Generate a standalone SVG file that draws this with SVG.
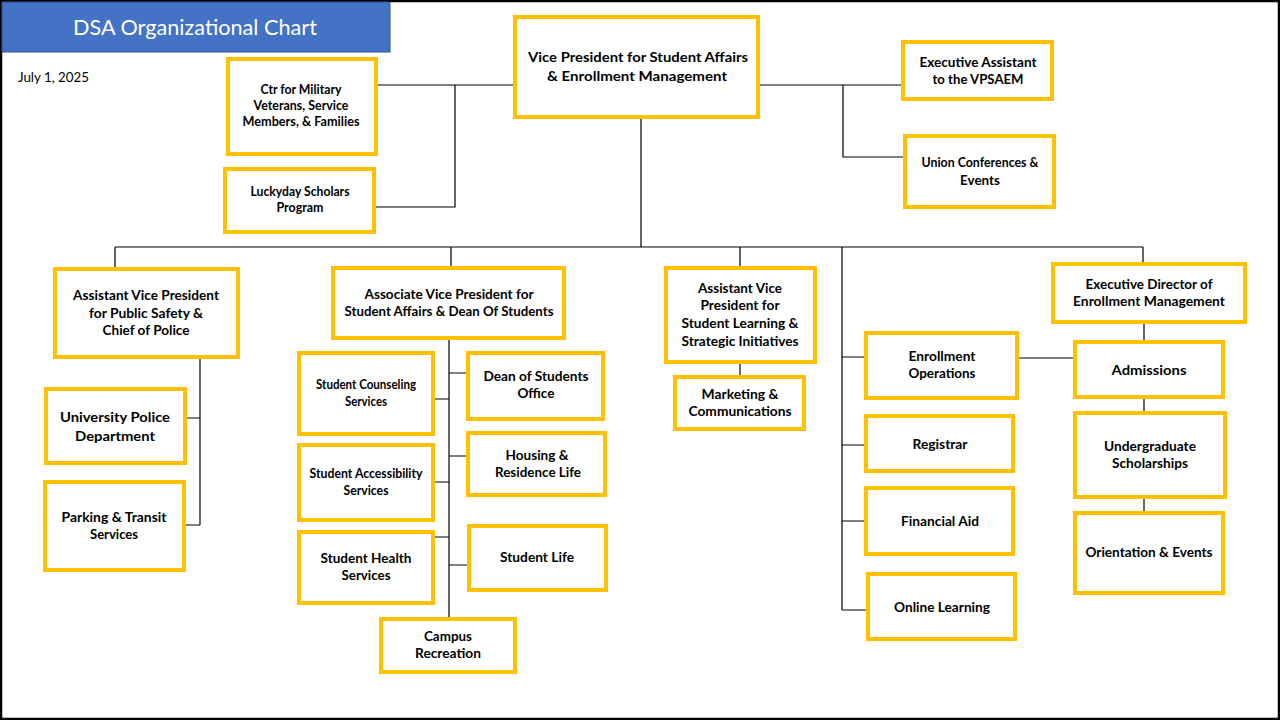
<svg xmlns="http://www.w3.org/2000/svg" width="1280" height="720" viewBox="0 0 1280 720">
<style>
.box{fill:#ffffff;stroke:#FFC000;stroke-width:4}
.t{font-family:Lato,"Liberation Sans",sans-serif;font-weight:700;font-size:12.5px;fill:#000;text-anchor:middle}
.big{font-size:13.5px}
.ln{stroke:#000;stroke-width:1.2;fill:none}
</style>
<rect x="0" y="0" width="1280" height="720" fill="#ffffff"/>
<rect x="1" y="1" width="1278" height="718" fill="none" stroke="#000" stroke-width="2.5"/>
<g id="title">
<rect x="2" y="2" width="388" height="50" fill="#4472C4" stroke="#2F528F" stroke-width="1"/>
<text x="195" y="34.5" font-family="Lato,'Liberation Sans',sans-serif" font-size="21" fill="#ffffff" text-anchor="middle" textLength="244" lengthAdjust="spacingAndGlyphs">DSA Organizational Chart</text>
</g>
<text x="18" y="82" font-family="Lato,'Liberation Sans',sans-serif" font-size="13" fill="#000" textLength="71" lengthAdjust="spacingAndGlyphs">July 1, 2025</text>

<g id="connectors">
<path class="ln" d="M378 85H515 M455 85V207H376"/>
<path class="ln" d="M758 85H902 M843 85V157H904"/>
<path class="ln" d="M641 117V247 M115 247H1143 M115 247V269 M451 247V268 M740 247V268 M1143 247V264"/>
<path class="ln" d="M200 357V525 M186 418H200 M184 525H200"/>
<path class="ln" d="M449 338V619 M433 399H449 M433 482H449 M433 537H449 M449 373H468 M449 456H468 M449 565H469"/>
<path class="ln" d="M740 362V377"/>
<path class="ln" d="M842 247V610 M842 357H866 M842 445H866 M842 521H866 M842 610H868 M1017 358H1075"/>
<path class="ln" d="M1144 322V342 M1144 397V413 M1144 497V513"/>
</g>

<g id="vp">
<rect class="box" x="515" y="17" width="243" height="100"/>
<text class="t big" x="638" y="62" textLength="220" lengthAdjust="spacingAndGlyphs">Vice President for Student Affairs</text>
<text class="t big" x="637" y="81" textLength="180" lengthAdjust="spacingAndGlyphs">&amp; Enrollment Management</text>
</g>
<g id="exec-assistant">
<rect class="box" x="903" y="42" width="149" height="57"/>
<text class="t" x="978" y="67" textLength="117" lengthAdjust="spacingAndGlyphs">Executive Assistant</text>
<text class="t" x="978" y="84" textLength="91" lengthAdjust="spacingAndGlyphs">to the VPSAEM</text>
</g>
<g id="union-conferences">
<rect class="box" x="905" y="136" width="149" height="71"/>
<text class="t" x="980" y="167" textLength="117" lengthAdjust="spacingAndGlyphs">Union Conferences &amp;</text>
<text class="t" x="980" y="185" textLength="40" lengthAdjust="spacingAndGlyphs">Events</text>
</g>
<g id="military">
<rect class="box" x="228" y="59" width="148" height="95"/>
<text class="t" x="301" y="94" textLength="81" lengthAdjust="spacingAndGlyphs">Ctr for Military</text>
<text class="t" x="301" y="110" textLength="95" lengthAdjust="spacingAndGlyphs">Veterans, Service</text>
<text class="t" x="301" y="126" textLength="117" lengthAdjust="spacingAndGlyphs">Members, &amp; Families</text>
</g>
<g id="luckyday">
<rect class="box" x="225" y="169" width="149" height="63"/>
<text class="t" x="300" y="196" textLength="99" lengthAdjust="spacingAndGlyphs">Luckyday Scholars</text>
<text class="t" x="300" y="212" textLength="47" lengthAdjust="spacingAndGlyphs">Program</text>
</g>

<g id="avp-public-safety">
<rect class="box" x="55" y="269" width="183" height="88"/>
<text class="t" x="146" y="300" textLength="146" lengthAdjust="spacingAndGlyphs">Assistant Vice President</text>
<text class="t" x="146" y="318" textLength="114" lengthAdjust="spacingAndGlyphs">for Public Safety &amp;</text>
<text class="t" x="146" y="335" textLength="87" lengthAdjust="spacingAndGlyphs">Chief of Police</text>
</g>
<g id="university-police">
<rect class="box" x="46" y="389" width="139" height="74"/>
<text class="t big" x="115" y="422" textLength="110" lengthAdjust="spacingAndGlyphs">University Police</text>
<text class="t big" x="115" y="441" textLength="80" lengthAdjust="spacingAndGlyphs">Department</text>
</g>
<g id="parking">
<rect class="box" x="45" y="482" width="139" height="88"/>
<text class="t" x="114" y="522" textLength="105" lengthAdjust="spacingAndGlyphs">Parking &amp; Transit</text>
<text class="t" x="114" y="539" textLength="48" lengthAdjust="spacingAndGlyphs">Services</text>
</g>

<g id="assoc-vp">
<rect class="box" x="333" y="268" width="231" height="70"/>
<text class="t" x="449" y="299" textLength="169" lengthAdjust="spacingAndGlyphs">Associate Vice President for</text>
<text class="t" x="449" y="316" textLength="209" lengthAdjust="spacingAndGlyphs">Student Affairs &amp; Dean Of Students</text>
</g>
<g id="counseling">
<rect class="box" x="299" y="353" width="134" height="81"/>
<text class="t" x="366" y="389" textLength="100" lengthAdjust="spacingAndGlyphs">Student Counseling</text>
<text class="t" x="366" y="406" textLength="42" lengthAdjust="spacingAndGlyphs">Services</text>
</g>
<g id="accessibility">
<rect class="box" x="299" y="445" width="134" height="75"/>
<text class="t" x="366" y="478" textLength="113" lengthAdjust="spacingAndGlyphs">Student Accessibility</text>
<text class="t" x="366" y="495" textLength="45" lengthAdjust="spacingAndGlyphs">Services</text>
</g>
<g id="health">
<rect class="box" x="299" y="532" width="134" height="71"/>
<text class="t" x="366" y="563" textLength="91" lengthAdjust="spacingAndGlyphs">Student Health</text>
<text class="t" x="366" y="580" textLength="49" lengthAdjust="spacingAndGlyphs">Services</text>
</g>
<g id="campus-rec">
<rect class="box" x="381" y="619" width="134" height="53"/>
<text class="t" x="448" y="641" textLength="48" lengthAdjust="spacingAndGlyphs">Campus</text>
<text class="t" x="448" y="658" textLength="66" lengthAdjust="spacingAndGlyphs">Recreation</text>
</g>
<g id="dean-office">
<rect class="box" x="468" y="353" width="135" height="66"/>
<text class="t" x="536" y="381" textLength="105" lengthAdjust="spacingAndGlyphs">Dean of Students</text>
<text class="t" x="536" y="398" textLength="37" lengthAdjust="spacingAndGlyphs">Office</text>
</g>
<g id="housing">
<rect class="box" x="468" y="433" width="137" height="62"/>
<text class="t" x="537" y="460" textLength="63" lengthAdjust="spacingAndGlyphs">Housing &amp;</text>
<text class="t" x="538" y="477" textLength="86" lengthAdjust="spacingAndGlyphs">Residence Life</text>
</g>
<g id="student-life">
<rect class="box" x="469" y="526" width="137" height="64"/>
<text class="t" x="537" y="562" textLength="74" lengthAdjust="spacingAndGlyphs">Student Life</text>
</g>

<g id="avp-learning">
<rect class="box" x="666" y="268" width="149" height="94"/>
<text class="t" x="740" y="293" textLength="84" lengthAdjust="spacingAndGlyphs">Assistant Vice</text>
<text class="t" x="740" y="310" textLength="79" lengthAdjust="spacingAndGlyphs">President for</text>
<text class="t" x="740" y="328" textLength="117" lengthAdjust="spacingAndGlyphs">Student Learning &amp;</text>
<text class="t" x="740" y="346" textLength="117" lengthAdjust="spacingAndGlyphs">Strategic Initiatives</text>
</g>
<g id="marketing">
<rect class="box" x="675" y="377" width="129" height="52"/>
<text class="t" x="740" y="399" textLength="77" lengthAdjust="spacingAndGlyphs">Marketing &amp;</text>
<text class="t" x="740" y="416" textLength="103" lengthAdjust="spacingAndGlyphs">Communications</text>
</g>

<g id="enrollment-ops">
<rect class="box" x="866" y="333" width="151" height="65"/>
<text class="t" x="942" y="361" textLength="67" lengthAdjust="spacingAndGlyphs">Enrollment</text>
<text class="t" x="942" y="378" textLength="67" lengthAdjust="spacingAndGlyphs">Operations</text>
</g>
<g id="registrar">
<rect class="box" x="866" y="416" width="147" height="55"/>
<text class="t" x="940" y="449" textLength="55" lengthAdjust="spacingAndGlyphs">Registrar</text>
</g>
<g id="financial-aid">
<rect class="box" x="866" y="488" width="147" height="66"/>
<text class="t" x="940" y="526" textLength="78" lengthAdjust="spacingAndGlyphs">Financial Aid</text>
</g>
<g id="online-learning">
<rect class="box" x="868" y="574" width="147" height="65"/>
<text class="t" x="942" y="612" textLength="96" lengthAdjust="spacingAndGlyphs">Online Learning</text>
</g>

<g id="exec-director">
<rect class="box" x="1053" y="264" width="192" height="58"/>
<text class="t" x="1149" y="289" textLength="127" lengthAdjust="spacingAndGlyphs">Executive Director of</text>
<text class="t" x="1149" y="306" textLength="152" lengthAdjust="spacingAndGlyphs">Enrollment Management</text>
</g>
<g id="admissions">
<rect class="box" x="1075" y="342" width="148" height="55"/>
<text class="t big" x="1149" y="375" textLength="75" lengthAdjust="spacingAndGlyphs">Admissions</text>
</g>
<g id="scholarships">
<rect class="box" x="1075" y="413" width="150" height="84"/>
<text class="t" x="1150" y="451" textLength="92" lengthAdjust="spacingAndGlyphs">Undergraduate</text>
<text class="t" x="1150" y="468" textLength="76" lengthAdjust="spacingAndGlyphs">Scholarships</text>
</g>
<g id="orientation">
<rect class="box" x="1075" y="513" width="148" height="80"/>
<text class="t" x="1149" y="557" textLength="127" lengthAdjust="spacingAndGlyphs">Orientation &amp; Events</text>
</g>
</svg>
